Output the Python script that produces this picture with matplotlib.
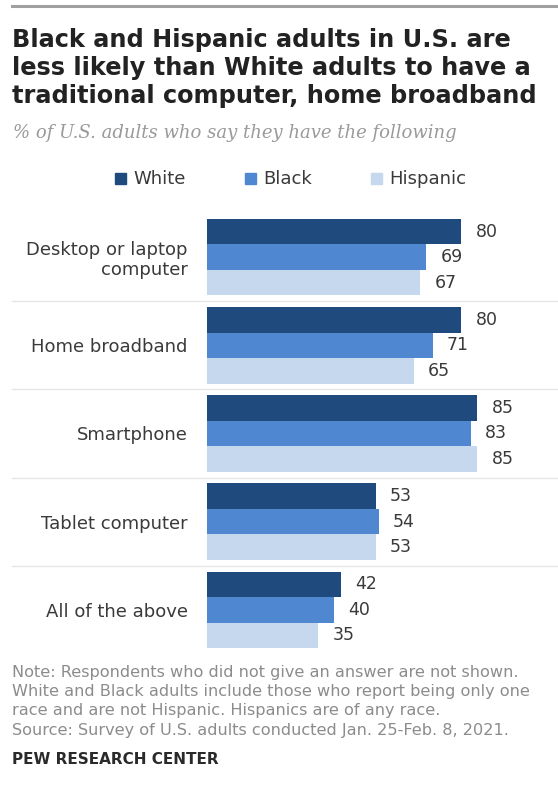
import numpy as np
from matplotlib import pyplot as plt
from matplotlib.lines import Line2D
from matplotlib.patches import Rectangle

# Share of U.S. adults owning each device, by race/ethnicity
categories = ['Desktop or laptop\ncomputer', 'Home broadband', 'Smartphone',
              'Tablet computer', 'All of the above']
groups = ['White', 'Black', 'Hispanic']
white = [80, 80, 85, 53, 42]
black = [69, 71, 83, 54, 40]
hispanic = [67, 65, 85, 53, 35]

colors = ['#1f4a7e', '#4f88d0', '#c5d8ee']
TEXT = '#3a3a3a'
NOTE = '#8c8c8c'

W, H = 558, 787
fig = plt.figure(figsize=(W / 100, H / 100), dpi=100)


def fy(px):
    # image pixel row -> figure fraction
    return 1 - px / H


def fx(px):
    return px / W


# Rule across the top
fig.add_artist(Line2D([fx(12), 1], [fy(6), fy(6)], color='#a0a0a0', lw=2.2))

fig.text(fx(12), fy(28), 'Black and Hispanic adults in U.S. are\n'
         'less likely than White adults to have a\n'
         'traditional computer, home broadband',
         fontsize=17.3, fontweight='bold', color='#222222', va='top',
         linespacing=1.2)
fig.text(fx(13), fy(133), '% of U.S. adults who say they have the following',
         fontsize=13, style='italic', family='DejaVu Serif', color='#9a9a9a',
         va='center')

# Legend row
legend_x = [115, 245, 371]
for x, name, c in zip(legend_x, groups, colors):
    fig.add_artist(Rectangle((fx(x), fy(184)), fx(11), 11 / H, color=c,
                             transform=fig.transFigure))
    fig.text(fx(x + 18), fy(179), name, fontsize=13, color=TEXT, va='center')

# Bars
ax_left, ax_right = 207, 558
ax_top, ax_bot = 213, 654
ax = fig.add_axes([fx(ax_left), fy(ax_bot), fx(ax_right - ax_left),
                   (ax_bot - ax_top) / H])
xmax = (ax_right - ax_left) / 3.18

y = np.arange(len(categories))
h = 0.29
for k, (vals, c) in enumerate(zip([white, black, hispanic], colors)):
    pos = y + (k - 1) * h
    ax.barh(pos, vals, height=h, color=c, edgecolor='none')
    for p, v in zip(pos, vals):
        ax.text(v + 4.5, p, str(v), va='center', ha='left', fontsize=12.5,
                color=TEXT)

ax.set_xlim(0, xmax)
ax.set_ylim(len(categories) - 0.5, -0.5)
ax.set_yticks(y)
ax.set_yticklabels(categories, fontsize=13, color=TEXT, ha='right',
                   multialignment='right', linespacing=1.12)
ax.tick_params(axis='y', length=0, pad=14)
ax.set_xticks([])
for s in ax.spines.values():
    s.set_visible(False)

# Light separators between the categories
for b in y[:-1] + 0.5:
    ax.axhline(b, xmin=(12 - ax_left) / (ax_right - ax_left), xmax=1,
               color='#e6e6e6', lw=1, clip_on=False)

notes = ['Note: Respondents who did not give an answer are not shown.',
         'White and Black adults include those who report being only one',
         'race and are not Hispanic. Hispanics are of any race.',
         'Source: Survey of U.S. adults conducted Jan. 25-Feb. 8, 2021.']
for i, line in enumerate(notes):
    fig.text(fx(12), fy(672 + i * 19.5), line, fontsize=11.6, color=NOTE,
             va='center')
fig.text(fx(12), fy(759), 'PEW RESEARCH CENTER', fontsize=11,
         fontweight='bold', color='#2a2a2a', va='center')

fig.savefig('out.png', dpi=100)
